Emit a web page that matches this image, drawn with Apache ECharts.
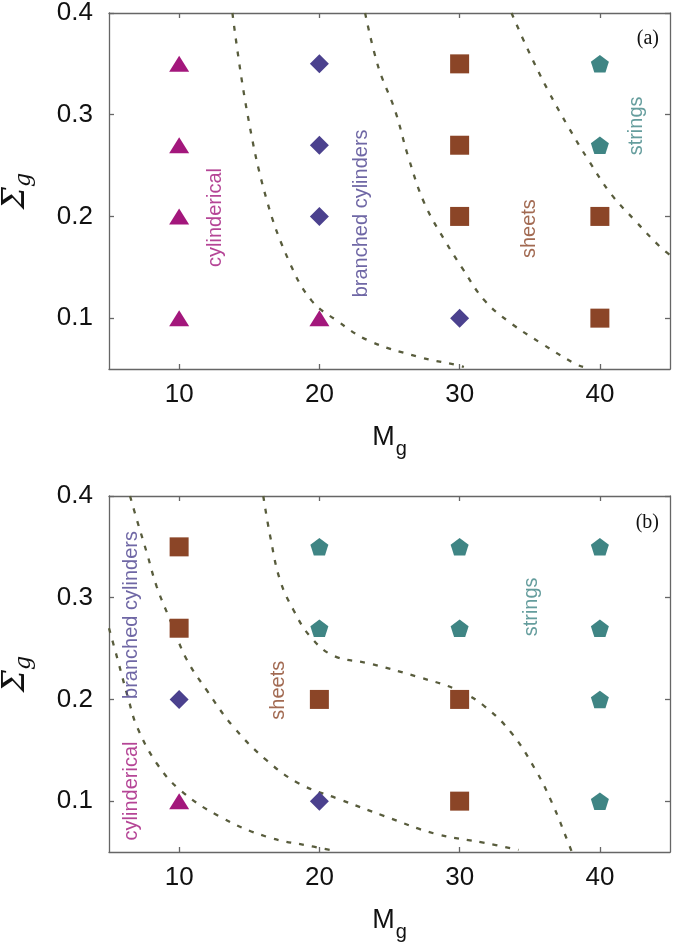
<!DOCTYPE html>
<html>
<head>
<meta charset="utf-8">
<script src="https://cdn.jsdelivr.net/npm/echarts@6/dist/echarts.min.js"></script>
<style>
html,body{margin:0;padding:0;background:#fff;}
#chart{width:675px;height:948px;}
</style>
</head>
<body>
<div id="chart"></div>
<script>
// ---------- tick labels ----------
const xTicks = [10, 20, 30, 40];
const yTicks = [0.1, 0.2, 0.3, 0.4];

// ---------- panel (a) points [Mg, Sigma_g] ----------
const aCylindrical = [[10,0.35],[10,0.27],[10,0.2],[10,0.1],[20,0.1]];
const aBranched    = [[20,0.35],[20,0.27],[20,0.2],[30,0.1]];
const aSheets      = [[30,0.35],[30,0.27],[30,0.2],[40,0.2],[40,0.1]];
const aStrings     = [[40,0.35],[40,0.27]];

// ---------- panel (a) boundaries ----------
const aBound1 = [[13.8,0.4],[14.83,0.304],[16.25,0.216],[17.9,0.154],[19.46,0.117],[21.2,0.098],[23.5,0.078],[27.06,0.062],[29.9,0.0536],[30.3,0.052]];
const aBound2 = [[23.26,0.4],[24.2,0.347],[25.4,0.304],[26.35,0.258],[27.5,0.2126],[28.96,0.176],[30.15,0.15],[31.8,0.117],[33.7,0.0946],[35.85,0.075],[38.2,0.0553],[38.8,0.052]];
const aBound3 = [[33.7,0.4],[34.9,0.363],[36.3,0.324],[37.75,0.288],[39.2,0.255],[40.8,0.222],[42.5,0.196],[44.3,0.17],[45,0.162]];

// ---------- panel (b) points ----------
const bCylindrical = [[10,0.1]];
const bBranched    = [[10,0.2],[20,0.1]];
const bSheets      = [[10,0.35],[10,0.27],[20,0.2],[30,0.2],[30,0.1]];
const bStrings     = [[20,0.35],[20,0.27],[30,0.35],[30,0.27],[40,0.35],[40,0.27],[40,0.2],[40,0.1]];

// ---------- panel (b) boundaries ----------
const bBound1 = [[5,0.27],[5.6,0.24],[6.39,0.2],[7.0,0.173],[8.41,0.137],[10.07,0.111],[12.9,0.0847],[16.25,0.065],[19.6,0.0552],[20.8,0.052]];
const bBound2 = [[6.5,0.4],[7,0.376],[7.7,0.344],[8.4,0.311],[9.36,0.278],[10.55,0.239],[11.97,0.209],[13.87,0.173],[16.25,0.14],[18.6,0.117],[21.4,0.102],[24.7,0.085],[28.25,0.068],[31.8,0.059],[34.2,0.052]];
const bBound3 = [[16,0.4],[16.5,0.36],[17.2,0.317],[18.15,0.288],[19.34,0.262],[21,0.243],[23.5,0.2355],[27.06,0.222],[29.9,0.209],[31.8,0.193],[33.7,0.167],[35.4,0.131],[36.6,0.098],[37.75,0.059],[38,0.05]];

// ---------- region labels [Mg, Sigma_g, text] ----------
const aRegionLabels = [[12.57,0.199,'cylinderical'],[23.03,0.203,'branched cylinders'],[35.0,0.188,'sheets'],[42.6,0.289,'strings']];
const bRegionLabels = [[6.63,0.283,'branched cylinders'],[6.63,0.11,'cylinderical'],[17.06,0.209,'sheets'],[35.14,0.291,'strings']];
const panelTags = ['(a)', '(b)'];

// ---------- styles ----------
const C = {cyl:'#a3177c', br:'#4b418e', sh:'#8b4527', st:'#3f8584'};
const labelColor = {'cylinderical':C.cyl,'branched cylinders':C.br,'sheets':C.sh,'strings':C.st};
const pentagon = 'path://M50,0 L97.55,34.55 L79.39,90.45 L20.61,90.45 L2.45,34.55 Z';
const dashColor = '#585c3c';
const axisColor = '#666';
const FONT = 'Liberation Sans, Arial, sans-serif';

const grids = [
  {left:109, right:5, top:13, height:356, containLabel:false, outerBoundsMode:'none'},
  {left:109, right:5, top:496, height:356, containLabel:false, outerBoundsMode:'none'}
];

function xAxes(g){
  return [
    {gridIndex:g, type:'value', min:5, max:45,
     axisLine:{show:true,onZero:false,lineStyle:{color:axisColor,width:1.3}},
     axisTick:{show:true,inside:true,length:5,customValues:xTicks,lineStyle:{color:axisColor,width:1.3}},
     axisLabel:{show:true,customValues:xTicks,fontSize:26,color:'#111',margin:13,fontFamily:FONT},
     splitLine:{show:false},
     name:'{m|M}{g|g}', nameLocation:'middle', nameGap:52,
     nameTextStyle:{fontFamily:FONT,color:'#111',
       rich:{m:{fontSize:27,color:'#111',fontFamily:FONT,verticalAlign:'bottom',lineHeight:30},
             g:{fontSize:20,color:'#111',fontFamily:FONT,verticalAlign:'bottom',lineHeight:30,padding:[0,0,-8,1]}}}},
    {gridIndex:g, type:'value', min:5, max:45, position:'top',
     axisLine:{show:true,onZero:false,lineStyle:{color:axisColor,width:1.3}},
     axisTick:{show:true,inside:true,length:5,customValues:xTicks,lineStyle:{color:axisColor,width:1.3}},
     axisLabel:{show:false}, splitLine:{show:false}}
  ];
}
function yAxes(g){
  return [
    {gridIndex:g, type:'value', min:0.05, max:0.4,
     axisLine:{show:true,onZero:false,lineStyle:{color:axisColor,width:1.3}},
     axisTick:{show:true,inside:true,length:5,customValues:yTicks,lineStyle:{color:axisColor,width:1.3}},
     axisLabel:{show:true,customValues:yTicks,fontSize:26,color:'#111',margin:16,fontFamily:FONT,
                formatter:v=>Number(v).toFixed(1)},
     splitLine:{show:false},
     name:'{s|Σ}{g|g}', nameLocation:'middle', nameGap:78,
     nameTextStyle:{fontFamily:FONT,color:'#111',
       rich:{s:{fontSize:31,fontStyle:'italic',color:'#111',fontFamily:'DejaVu Serif, serif',verticalAlign:'bottom',lineHeight:34},
             g:{fontSize:22,fontStyle:'italic',color:'#111',fontFamily:'DejaVu Serif, serif',verticalAlign:'bottom',lineHeight:34,padding:[0,0,-4,0]}}}},
    {gridIndex:g, type:'value', min:0.05, max:0.4, position:'right',
     axisLine:{show:true,onZero:false,lineStyle:{color:axisColor,width:1.3}},
     axisTick:{show:true,inside:true,length:5,customValues:yTicks,lineStyle:{color:axisColor,width:1.3}},
     axisLabel:{show:false}, splitLine:{show:false}}
  ];
}

function pointSeries(ax, data, symbol, size, color){
  return {type:'scatter', xAxisIndex:ax, yAxisIndex:ax, data:data, symbol:symbol, symbolSize:size,
          itemStyle:{color:color, opacity:1}, silent:true, z:5};
}
function boundSeries(ax, data){
  return {type:'line', xAxisIndex:ax, yAxisIndex:ax, data:data, symbol:'none', showSymbol:false,
          smooth:0.4, clip:true, silent:true, z:3,
          lineStyle:{color:dashColor, width:2.3, type:[5,8]}};
}
function labelSeries(ax, labels){
  return {type:'scatter', xAxisIndex:ax, yAxisIndex:ax, silent:true, z:4,
          symbolSize:1, itemStyle:{color:'rgba(0,0,0,0)'},
          data: labels.map(l=>({value:[l[0],l[1]], name:l[2],
             label:{show:true, position:'inside', rotate:90, formatter:l[2],
                    fontSize:20, fontFamily:FONT, color:labelColor[l[2]]}}))};
}

function panelSeries(ax, cyl, br, sh, st, bounds, labels){
  const s = [];
  bounds.forEach(b=>s.push(boundSeries(ax,b)));
  s.push(pointSeries(ax, cyl, 'triangle', [20,16], C.cyl));
  s.push(pointSeries(ax, br, 'diamond', [19,19], C.br));
  s.push(pointSeries(ax, sh, 'rect', [19,19], C.sh));
  s.push(pointSeries(ax, st, pentagon, [18,17.5], C.st));
  s.push(labelSeries(ax, labels));
  return s;
}

const chart = echarts.init(document.getElementById('chart'), null, {renderer:'canvas'});
chart.setOption({
  animation:false,
  backgroundColor:'#fff',
  grid: grids,
  xAxis: xAxes(0).concat(xAxes(1)),
  yAxis: yAxes(0).concat(yAxes(1)),
  title: [
    {text:panelTags[0], right:11, top:24, textStyle:{fontFamily:'Liberation Serif, serif', fontSize:20, fontWeight:'normal', color:'#111'}},
    {text:panelTags[1], right:11, top:508, textStyle:{fontFamily:'Liberation Serif, serif', fontSize:20, fontWeight:'normal', color:'#111'}}
  ],
  series: [].concat(
    panelSeries(0, aCylindrical, aBranched, aSheets, aStrings, [aBound1,aBound2,aBound3], aRegionLabels),
    panelSeries(2, bCylindrical, bBranched, bSheets, bStrings, [bBound1,bBound2,bBound3], bRegionLabels)
  )
});
</script>
</body>
</html>
